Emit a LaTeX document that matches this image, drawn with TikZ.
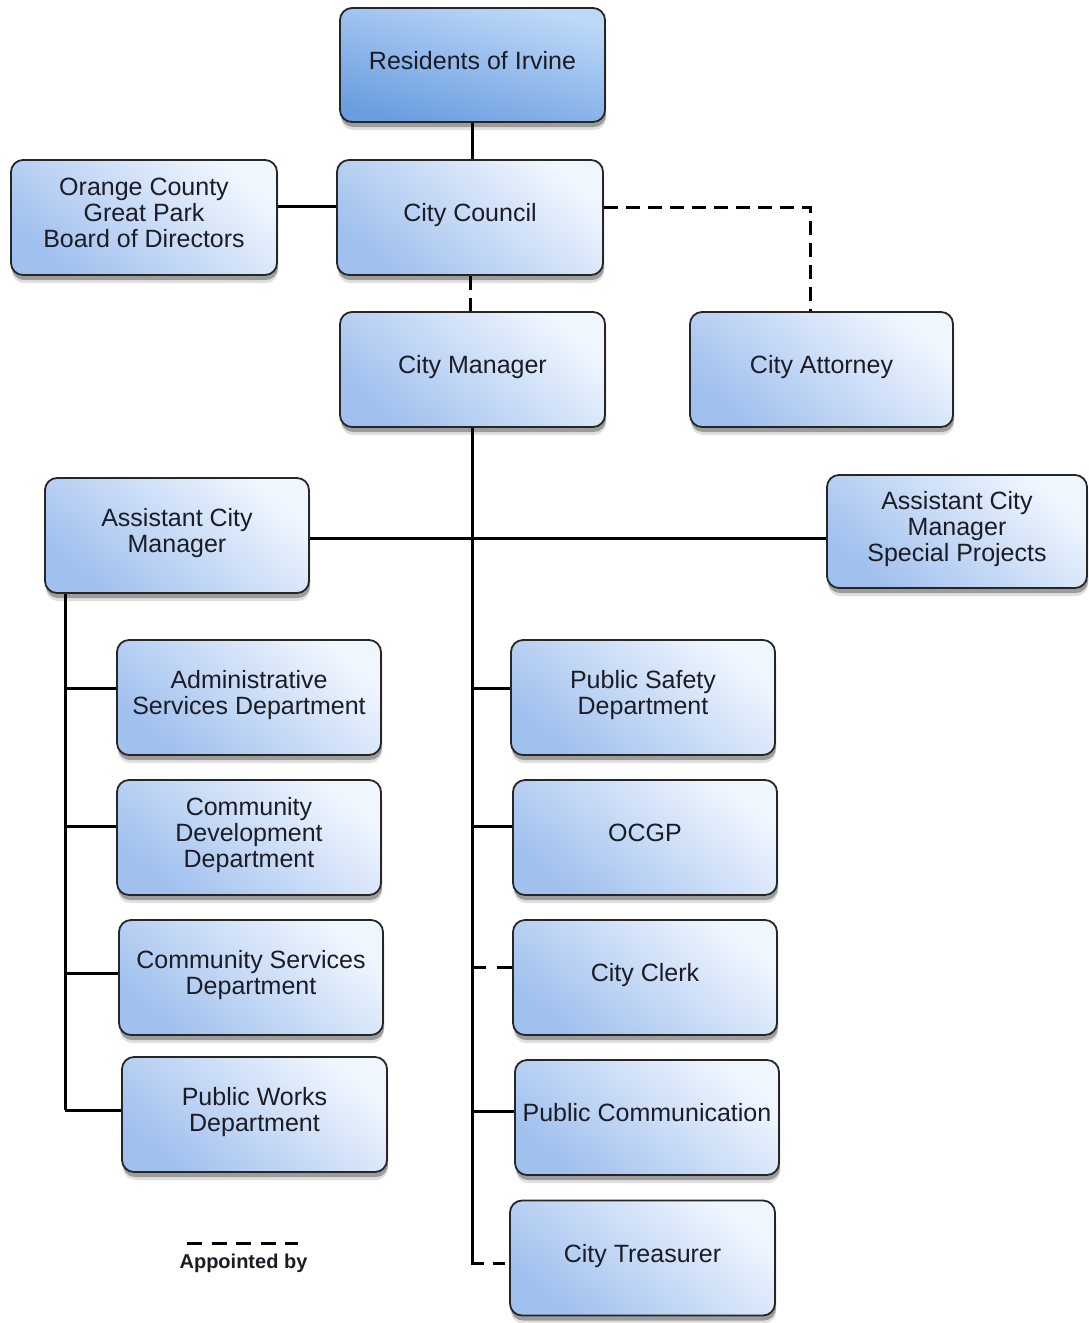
\documentclass[tikz,border=0pt]{standalone}
\usepackage{fontspec}
\setmainfont{Liberation Sans}
\usetikzlibrary{shadows}
\definecolor{boxline}{HTML}{262626}
\definecolor{boxlight}{HTML}{F0F6FE}
\definecolor{boxdark}{HTML}{A0C0EE}
\definecolor{reslight}{HTML}{BED9F8}
\definecolor{resdark}{HTML}{6A9DE0}
\definecolor{txt}{HTML}{1C1C26}
\tikzset{
  orgbox/.style={draw=boxline, line width=1.8pt, rounded corners=12pt,
    top color=boxlight, bottom color=boxdark, shading angle=-40,
    drop shadow={shadow xshift=1pt, shadow yshift=-8pt, fill=black, opacity=0.12},
    drop shadow={shadow xshift=1pt, shadow yshift=-5pt, fill=black, opacity=0.3},
    align=center, inner xsep=0pt, text=txt,
    font=\fontsize{25}{26}\selectfont, text depth=10pt},
  resbox/.style={orgbox, top color=reslight, bottom color=resdark, shading angle=-15},
  conn/.style={line width=3pt, black},
  appt/.style={conn, dash pattern=on 14pt off 8pt},
}
\begin{document}
\begin{tikzpicture}[x=1pt,y=-1pt]
\useasboundingbox[fill=white] (0,0) rectangle (1088,1323);

% boxes
\node[resbox, minimum width=265pt, minimum height=114pt] (res) at (472.5,65) {Residents of Irvine};
\node[orgbox, minimum width=266pt, minimum height=115pt] (council) at (470,217.5) {City Council};
\node[orgbox, minimum width=266pt, minimum height=115pt] (board) at (144,217.5) {Orange County\\Great Park\\Board of Directors};
\node[orgbox, minimum width=265pt, minimum height=115pt] (manager) at (472.5,369.5) {City Manager};
\node[orgbox, minimum width=263pt, minimum height=115pt] (attorney) at (821.5,369.5) {City Attorney};
\node[orgbox, minimum width=264pt, minimum height=115pt] (acm) at (177,535.5) {Assistant City\\Manager};
\node[orgbox, minimum width=260pt, minimum height=113pt] (acmsp) at (957,531.5) {Assistant City\\Manager\\Special Projects};
\node[orgbox, minimum width=264pt, minimum height=115pt] (admin) at (249,697.5) {Administrative\\Services Department};
\node[orgbox, minimum width=264pt, minimum height=115pt] (cdd) at (249,837.5) {Community\\Development\\Department};
\node[orgbox, minimum width=264pt, minimum height=115pt] (csd) at (251,977.5) {Community Services\\Department};
\node[orgbox, minimum width=265pt, minimum height=115pt] (pwd) at (254.5,1114.5) {Public Works\\Department};
\node[orgbox, minimum width=264pt, minimum height=115pt] (psd) at (643,697.5) {Public Safety\\Department};
\node[orgbox, minimum width=264pt, minimum height=115pt] (ocgp) at (645,837.5) {OCGP};
\node[orgbox, minimum width=264pt, minimum height=115pt] (clerk) at (645,977.5) {City Clerk};
\node[orgbox, minimum width=264pt, minimum height=115pt] (pc) at (647,1117.5) {Public Communication};
\node[orgbox, minimum width=265pt, minimum height=115pt] (treas) at (642.5,1258) {City Treasurer};

% connector helper coordinates
\coordinate (attcorner) at (810,207);
\coordinate (trunkend) at (472.5,1263);
\coordinate (acmend) at (65,1110);

% top connectors
\draw[conn] (res.south -| 472,0) -- (council.north -| 472,0);
\draw[conn] (board.east |- 0,206) -- (council.west |- 0,206);
\draw[appt] (council.east |- 0,207) -- (attcorner) -- (attcorner |- attorney.north);
\draw[appt] (council.south -| 470,0) -- (manager.north -| 470,0);

% manager trunk
\draw[conn] (manager.south) -- (trunkend) -- ++(11,0);
\draw[appt, dash pattern=on 0pt off 20pt on 12pt off 20pt] (trunkend) -- (treas.west |- trunkend);
\draw[conn] (acm.east |- 0,538) -- (acmsp.west |- 0,538);

% assistant city manager branch
\draw[conn] (acm.south -| acmend) -- (acmend);
\draw[conn] (acmend |- 0,688) -- (admin.west |- 0,688);
\draw[conn] (acmend |- 0,826) -- (cdd.west |- 0,826);
\draw[conn] (acmend |- 0,973) -- (csd.west |- 0,973);
\draw[conn] (acmend) -- (pwd.west |- acmend);

% city manager branches
\draw[conn] (trunkend |- 0,688) -- (psd.west |- 0,688);
\draw[conn] (trunkend |- 0,826) -- (ocgp.west |- 0,826);
\draw[appt, dash pattern=on 13pt off 11pt on 20pt] (trunkend |- 0,967) -- (clerk.west |- 0,967);
\draw[conn] (trunkend |- 0,1111) -- (pc.west |- 0,1111);

% legend
\coordinate (lega) at (187,1243);
\coordinate (legb) at (298,1243);
\draw[appt, dash pattern=on 15pt off 9.5pt] (lega) -- (legb);
\node[text=txt, font=\fontsize{20}{22}\selectfont\bfseries, inner sep=0pt] (legtext) at (243.5,1263) {Appointed by};
\end{tikzpicture}
\end{document}
